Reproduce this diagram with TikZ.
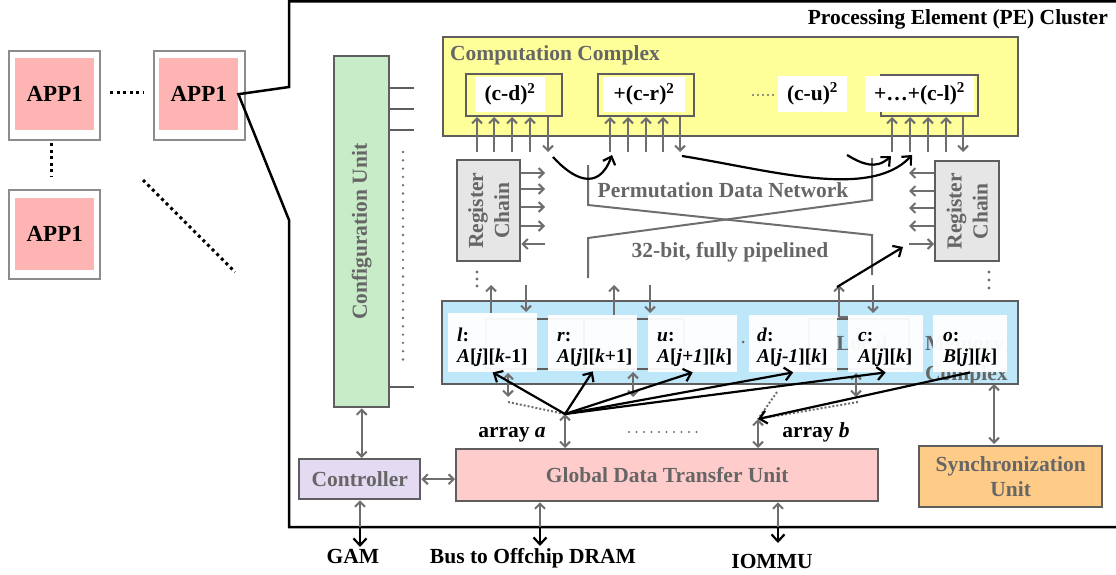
\documentclass[tikz,border=0pt]{standalone}
\usepackage{fontspec}
\setmainfont{Liberation Serif}
\usetikzlibrary{arrows.meta}

\definecolor{edgegray}{HTML}{5E5E5E}
\definecolor{arrgray}{HTML}{6E6E6E}
\definecolor{txtgray}{HTML}{666666}
\definecolor{appgray}{HTML}{8C8C8C}
\definecolor{apppink}{HTML}{FFB4B4}
\definecolor{cyellow}{HTML}{FFFF99}
\definecolor{cgreen}{HTML}{C8ECC8}
\definecolor{cblue}{HTML}{BEE8FA}
\definecolor{cpink}{HTML}{FFCCCC}
\definecolor{corange}{HTML}{FFCC88}
\definecolor{clav}{HTML}{E4DAF2}
\definecolor{cchain}{HTML}{E6E6E6}

\newcommand\lblfont{\fontsize{21.5}{26}\selectfont\bfseries}
\newcommand\memfont{\fontsize{19.5}{22}\selectfont\bfseries}
\newcommand\appfont{\fontsize{23}{26}\selectfont\bfseries}

\begin{document}
\begin{tikzpicture}[x=1pt,y=-1pt,
  blk/.style={draw=edgegray, line width=2.4pt, inner sep=0pt, anchor=north west},
  appout/.style={draw=appgray, line width=2.4pt, fill=white, inner sep=0pt, anchor=north west,
                 minimum width=91, minimum height=89},
  appin/.style={fill=apppink, inner sep=0pt, anchor=north west, font=\appfont,
                minimum width=79, minimum height=72},
  glbl/.style={text=txtgray, font=\lblfont, inner sep=0pt},
  klbl/.style={text=black, font=\lblfont, inner sep=0pt},
  memtxt/.style={text=black, font=\memfont, inner sep=0pt, anchor=base west},
  membox/.style={fill=white, fill opacity=0.95, inner sep=0pt, anchor=north west},
  hidbox/.style={draw=edgegray, line width=2pt, inner sep=0pt, anchor=north west},
  garr/.style={draw=arrgray, line width=2pt, -{Straight Barb[length=5pt,width=10pt]}},
  gdarr/.style={draw=arrgray, line width=2pt,
                {Straight Barb[length=5pt,width=10pt]}-{Straight Barb[length=5pt,width=10pt]}},
  karr/.style={draw=black, line width=2.2pt, -{Straight Barb[length=7pt,width=13pt]}},
  perm/.style={draw=arrgray, line width=2pt, line join=miter},
  kdots/.style={draw=black, line width=3pt, dash pattern=on 3pt off 3.5pt},
  gdots/.style={draw=arrgray, line width=2.6pt, line cap=round, dash pattern=on 0pt off 8.3pt},
  fdots/.style={draw=arrgray, line width=2pt, dash pattern=on 2pt off 2pt},
]
\useasboundingbox (0,0) rectangle (1116,575);

% ---------- application tiles ----------
\node[appout] (app1o) at (8,50) {};
\node[appin] (app1) at (15,58) {APP1};
\node[appout] (app2o) at (153,50) {};
\node[appin] (app2) at (159,58) {APP1};
\node[appout] (app3o) at (8,189) {};
\node[appin] (app3) at (15,198) {APP1};
\draw[kdots] (110,93) -- (143,93);
\draw[kdots] (51,143) -- (51,177);
\draw[kdots] (143,180) -- (235,272);

% ---------- PE cluster outline with the zoom wedge ----------
\draw[line width=2.5pt, line join=miter] (1116,1.3) -- (289,1.3) -- (289,87) -- (app2.east)
  -- (289,220) -- (289,527) -- (1116,527);
\node[klbl, anchor=base east] (pec) at (1108,25) {Processing Element (PE) Cluster};

% ---------- configuration unit ----------
\node[blk, fill=cgreen, minimum width=55, minimum height=351] (cfg) at (333,55) {};
\node[glbl, rotate=90] (cfgt) at (cfg.center) {Configuration Unit};
\draw[draw=edgegray, line width=2pt] (389,88) -- (414,88) (389,109) -- (414,109)
  (389,130) -- (414,130) (389,387) -- (414,387);
\draw[gdots] (403,152) -- (403,366);

% ---------- computation complex ----------
\node[blk, fill=cyellow, minimum width=575, minimum height=99] (cc) at (442,36) {};
\node[glbl, anchor=base west] (cct) at (450,61) {Computation Complex};
\node[blk, fill=cyellow, minimum width=96, minimum height=42] (cb1) at (465,73) {};
\node[blk, fill=cyellow, minimum width=96, minimum height=42] (cb2) at (597,73) {};
\node[blk, fill=cyellow, minimum width=97, minimum height=41] (cb4) at (880,74) {};
\node[fill=white, inner sep=0pt, minimum width=70, minimum height=35, font=\lblfont]
  (cb1t) at (510,94.5) {(c-d)\textsuperscript{2}};
\node[fill=white, inner sep=0pt, minimum width=82, minimum height=35, font=\lblfont]
  (cb2t) at (644,94.5) {+(c-r)\textsuperscript{2}};
\node[fill=white, inner sep=0pt, minimum width=69, minimum height=36, font=\lblfont]
  (cb3t) at (812.5,94) {(c-u)\textsuperscript{2}};
\node[fill=white, inner sep=0pt, minimum width=109, minimum height=36, font=\lblfont]
  (cb4t) at (919.5,94) {+\ldots+(c-l)\textsuperscript{2}};
\draw[draw=arrgray, line width=2.2pt, line cap=round, dash pattern=on 0pt off 5pt]
  (753,95) -- (776,95);

% operand and result ports of the computation units
\foreach \px in {477,494,512,530,610,628,646,663,892,910,928,946}
  \draw[garr] (\px,152) -- (\px,117);
\foreach \px in {548,680,963}
  \draw[garr] (\px,117) -- (\px,152);

% ---------- register chains ----------
\node[blk, fill=cchain, minimum width=63, minimum height=101] (rcl) at (456,159) {};
\node[glbl, rotate=90, align=center] (rclt) at (rcl.center) {Register\\Chain};
\node[blk, fill=cchain, minimum width=64, minimum height=100] (rcr) at (934,160) {};
\node[glbl, rotate=90, align=center] (rcrt) at (rcr.center) {Register\\Chain};
\foreach \py in {173,189,207,226}
  \draw[garr] (rcl.east |- 0,\py) -- (545,\py);
\draw[garr] (545,244) -- (rcl.east |- 0,244);
\foreach \py in {173,191,208,226}
  \draw[garr] (rcr.west |- 0,\py) -- (909,\py);
\draw[garr] (909,244) -- (rcr.west |- 0,244);
\foreach \py in {272,279,286} \fill[arrgray] (477,\py) circle (1.6);
\foreach \py in {272,280,288} \fill[arrgray] (989,\py) circle (1.6);

% ---------- permutation data network ----------
\draw[perm] (588,165) -- (588,205) -- (872,235) -- (872,275);
\draw[perm] (872,158) -- (872,200) -- (588,238) -- (588,278);
\node[glbl, anchor=base] (pdn) at (723,197) {Permutation Data Network};
\node[glbl, anchor=base] (pdw) at (730,257) {32-bit, fully pipelined};

% ---------- memory complex ----------
\node[blk, fill=cblue, minimum width=576, minimum height=83] (mc) at (441,300) {};
\node[glbl, anchor=base west] (mct1) at (925,350) {Memory};
\node[glbl, anchor=base west] (mct2) at (925,380) {Complex};
\node[hidbox, minimum width=98, minimum height=50] (lm1) at (485,318) {};
\node[hidbox, minimum width=100, minimum height=50] (lm2) at (583,318) {};
\node[hidbox, minimum width=100, minimum height=50] (lm4) at (808,318) {};
\node[glbl] (lm4t) at (862,343) {Local};
\fill[arrgray] (743,342) circle (1.5);

\node[membox, minimum width=89, minimum height=59] (ml) at (448,313) {};
\node[membox, minimum width=89, minimum height=56] (mr) at (548,315) {};
\node[membox, minimum width=89, minimum height=57] (mu) at (648,315) {};
\node[membox, minimum width=88, minimum height=57] (md) at (749,315) {};
\node[membox, minimum width=75, minimum height=57] (mcc) at (848,315) {};
\node[membox, minimum width=74, minimum height=57] (mo) at (933,315) {};

\node[memtxt] (mlA) at (457,341) {\textit{l}:};
\node[memtxt] (mlB) at (457,362) {\textit{A}[\textit{j}][\textit{k}-1]};
\node[memtxt] (mrA) at (557,341) {\textit{r}:};
\node[memtxt] (mrB) at (557,362) {\textit{A}[\textit{j}][\textit{k}+1]};
\node[memtxt] (muA) at (657,341) {\textit{u}:};
\node[memtxt] (muB) at (657,362) {\textit{A}[\textit{j+1}][\textit{k}]};
\node[memtxt] (mdA) at (757,341) {\textit{d}:};
\node[memtxt] (mdB) at (757,362) {\textit{A}[\textit{j-1}][\textit{k}]};
\node[memtxt] (mcA) at (858,341) {\textit{c}:};
\node[memtxt] (mcB) at (858,362) {\textit{A}[\textit{j}][\textit{k}]};
\node[memtxt] (moA) at (943,341) {\textit{o}:};
\node[memtxt] (moB) at (943,362) {\textit{B}[\textit{j}][\textit{k}]};

% links between memory and the register chains / network
\draw[garr] (491,313) -- (491,285);
\draw[garr] (526,285) -- (526,312);
\draw[garr] (614,315) -- (614,285);
\draw[garr] (650,285) -- (650,313);
\draw[draw=arrgray, line width=2pt] (848,317) -- (839,317);
\draw[garr] (839,317) -- (839,285);
\draw[garr] (873,285) -- (873,313);

% ---------- lower units ----------
\node[blk, fill=clav, minimum width=121, minimum height=40] (ctrl) at (298,458) {};
\node[glbl] (ctrlt) at (ctrl.center) {Controller};
\node[blk, fill=cpink, minimum width=422, minimum height=52] (gdtu) at (455,448) {};
\node[glbl] (gdtut) at (gdtu.center) {Global Data Transfer Unit};
\node[blk, fill=corange, minimum width=183, minimum height=61] (sync) at (918,445) {};
\node[glbl, align=center, font=\fontsize{21.5}{25}\selectfont\bfseries] (synct)
  at (sync.center) {Synchronization\\Unit};

\draw[gdarr] (cfg.south) -- (cfg.south |- ctrl.north);
\draw[gdarr] (ctrl.east) -- (ctrl.east -| gdtu.west);
\draw[gdarr] (994,384) -- (994,444);

% array ports
\coordinate (ja) at (565,414);
\coordinate (jb) at (758,419);
\draw[gdarr] (508,373) -- (508,397);
\draw[gdarr] (633,372) -- (633,397);
\draw[gdarr] (856,373) -- (856,397);
\draw[fdots] (508,402) -- (ja);
\draw[fdots] (858,402) -- (jb);
\draw[fdots] (777,392) -- (jb);
\draw[gdarr] (ja) -- (ja |- gdtu.north);
\draw[gdarr] (jb) -- (jb |- gdtu.north);
\node[klbl, anchor=base] (arra) at (512,437) {array \textit{a}};
\node[klbl, anchor=base] (arrb) at (816,437) {array \textit{b}};
\draw[draw=arrgray, line width=2.4pt, line cap=round, dash pattern=on 0pt off 7.5pt]
  (629,432) -- (697,432);

% ---------- external interfaces ----------
\coordinate (gamx) at (360,527);
\coordinate (busx) at (540,527);
\coordinate (iox) at (778,527);
\draw[garr] (gamx) -- (gamx |- ctrl.south);
\draw[garr] (busx) -- (busx |- gdtu.south);
\draw[garr] (iox) -- (iox |- gdtu.south);
\node[klbl, anchor=base] (gam) at (353,563) {GAM};
\node[klbl, anchor=base] (bus) at (533,563) {Bus to Offchip DRAM};
\node[klbl, anchor=base] (iommu) at (772,568) {IOMMU};
\draw[karr] (gamx) -- (360,547);
\draw[karr] (busx) -- (540,546);
\draw[karr] (iox) -- (778,543);

% ---------- data movement ----------
\coordinate (in2) at (612,155);
\coordinate (in4a) at (891,156);
\coordinate (in4b) at (912,155);
\draw[karr] (553,157) .. controls (572,178) and (598,193) .. (in2);
\draw[karr] (682,156) .. controls (770,170) and (870,200) .. (in4b);
\draw[karr] (847,155) .. controls (862,164) and (876,170) .. (in4a);
\draw[karr] (837,287) -- (903,247);
\draw[karr] (ja) -- (ml.south);
\draw[karr] (ja) -- (mr.south);
\draw[karr] (ja) -- (mu.south);
\draw[karr] (ja) -- (md.south);
\draw[karr] (ja) -- (mcc.south);
\draw[karr] (mo.south) -- (jb);
\end{tikzpicture}
\end{document}
